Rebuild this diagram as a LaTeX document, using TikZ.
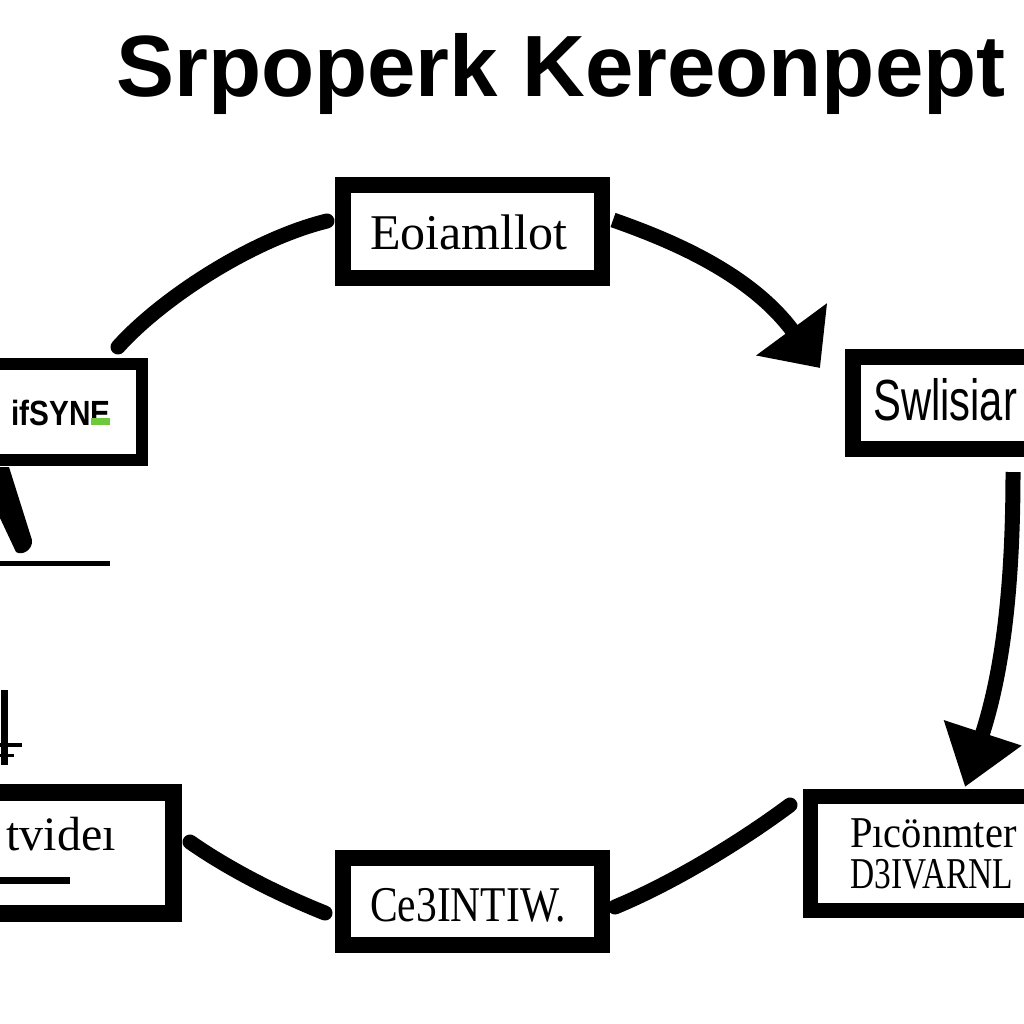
\documentclass[tikz,border=0pt]{standalone}
\usepackage{fontspec}
\setmainfont{Liberation Serif}
\newfontfamily\sansfam{Liberation Sans}
\usetikzlibrary{arrows.meta,calc}
\definecolor{limeg}{RGB}{110,200,60}
\begin{document}
\begin{tikzpicture}[x=1pt,y=-1pt,
  box/.style={draw=black, fill=white, inner sep=0pt, line width=#1},
  box/.default=16pt,
  lbl/.style={inner sep=0pt, text=black},
  conn/.style={draw=black, line width=15pt, line cap=round},
]
\clip (0,0) rectangle (1024,1024);
\fill[white] (0,0) rectangle (1024,1024);

% title
\node[lbl, anchor=base west, font=\sansfam\bfseries\fontsize{87}{90}\selectfont] (title) at (116,97) {Srpoperk Kereonpept};

% boxes
\node[box=16pt, minimum width=259pt, minimum height=93pt] (T) at (472.5,231.5) {};
\node[box=16pt, minimum width=192pt, minimum height=92pt] (R) at (949,403) {};
\node[box=12pt, minimum width=172pt, minimum height=96pt] (L) at (56,412) {};
\node[box=17pt, minimum width=204pt, minimum height=121pt] (BL) at (71.5,853) {};
\node[box=16pt, minimum width=259pt, minimum height=87pt] (BC) at (472.5,901.5) {};
\node[box=15pt, minimum width=235pt, minimum height=114pt] (BR) at (928,853.5) {};

% texts
\node[lbl, anchor=base west, font=\fontsize{50}{60}\selectfont] (tT) at (370,249) {Eoiamllot};
\node[lbl, anchor=base west, font=\sansfam\fontsize{58}{60}\selectfont] (tR) at (873,420) {\scalebox{0.72}[1]{Swlisiar}};
\node[lbl, anchor=base east, font=\sansfam\bfseries\fontsize{35}{40}\selectfont] (tL) at (111,425) {\scalebox{0.85}[1]{ifSYNE}};
\fill[limeg] (91,418) rectangle (110,425);
\node[lbl, anchor=base east, font=\fontsize{48}{56}\selectfont] (tBL) at (116,850) {tvide\i};
\node[lbl, anchor=base west, font=\fontsize{50}{60}\selectfont] (tBC) at (370,921) {\scalebox{0.83}[1]{Ce3INTIW.}};
\node[lbl, anchor=base west, font=\fontsize{44}{50}\selectfont] (tBR1) at (850,847) {\scalebox{0.92}[1]{Pıcönmter}};
\node[lbl, anchor=base west, font=\fontsize{44}{50}\selectfont] (tBR2) at (850,888) {\scalebox{0.76}[1]{D3IVARNL}};

% underline in bottom-left box
\draw[line width=7pt] (0,880) -- (70,880);

% connectors
\draw[conn] ([shift={(-30,-11)}]L.north east) .. controls (160,300) and (250,240) .. ([shift={(-8,-10.5)}]T.west);
\draw[conn, line cap=butt, -{Triangle[length=48pt,width=85pt]}] ([shift={(3,-11.5)}]T.east) .. controls (670,240) and (750,273) .. ([shift={(-25,-35)}]R.west);
\draw[conn, line cap=butt, -{Triangle[length=57pt,width=78pt]}] ([shift={(64,15)}]R.south) .. controls (1013,600) and (1000,680) .. ([shift={(37,-2)}]BR.north);
\draw[conn] ([shift={(-13,-48.5)}]BR.west) .. controls (750,835) and (680,880) .. ([shift={(5,5.5)}]BC.east);
\draw[conn] ([shift={(8,-11)}]BL.east) .. controls (230,870) and (280,895) .. ([shift={(-10,11.5)}]BC.west);

% left fragments
\fill[black] (0,467) -- (9,467) -- (32,540) .. controls (33,550) and (22,556) .. (16,552) -- (0,518) -- cycle;
\draw[line width=5pt] (0,563) -- (110,563);
\draw[line width=7pt] (4,690) -- (4,765);
\draw[line width=4pt] (0,745) -- (22,745);
\draw[line width=3pt] (0,755) -- (14,755);
\end{tikzpicture}
\end{document}
